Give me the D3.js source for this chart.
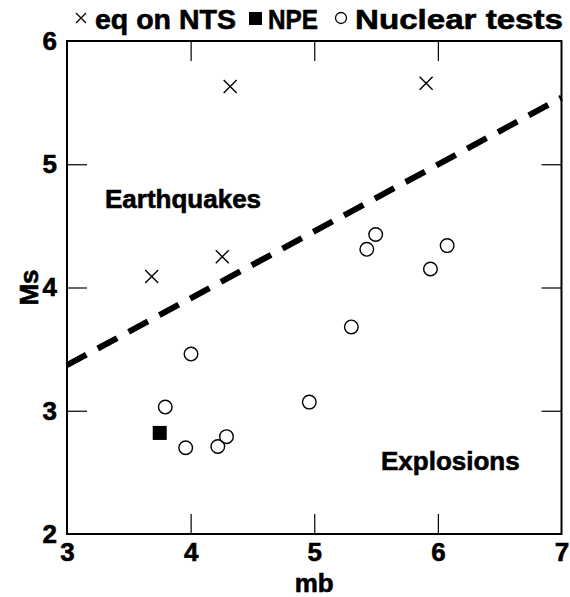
<!DOCTYPE html>
<html><head><meta charset="utf-8">
<script src="https://cdn.jsdelivr.net/npm/d3@7"></script>
<style>body{margin:0;background:#fff}svg{display:block}text{font-family:"Liberation Sans",Arial,sans-serif;font-weight:bold;fill:#000;stroke:#000;stroke-width:0.6px}</style>
</head><body><svg id="c" width="570" height="597"></svg>
<script>
const xTicks=[3,4,5,6,7];
const yTicks=[2,3,4,5,6];
const eqMb=[3.685,4.256,4.32,5.905];
const eqMs=[4.09,4.25,5.63,5.657];
const npeMb=[3.75];
const npeMs=[2.82];
const nucMb=[3.795,3.96,4.003,4.22,4.29,4.96,5.30,5.425,5.497,5.94,6.075];
const nucMs=[3.03,2.70,3.46,2.71,2.79,3.07,3.68,4.31,4.43,4.15,4.34];
const lineMb=[3,7];
const lineMs=[3.37,5.54];
const legendLabels=["eq on NTS","NPE","Nuclear tests"];
const regionLabels=["Earthquakes","Explosions"];

const svg=d3.select("#c");
const L=67,R=561.5,T=41,B=534;
const x=d3.scaleLinear().domain([3,7]).range([L,R]);
const y=d3.scaleLinear().domain([2,6]).range([B,T]);
const g=svg.append("g");
const tl=20;
g.append("rect").attr("x",L).attr("y",T).attr("width",R-L).attr("height",B-T).attr("fill","none").attr("stroke","#000").attr("stroke-width",2);
const ax=g.append("g").attr("transform",`translate(0,${B})`).call(d3.axisBottom(x).tickValues(xTicks).tickSize(-tl).tickPadding(9).tickFormat(d3.format("d")));
const ax2=g.append("g").attr("transform",`translate(0,${T})`).call(d3.axisTop(x).tickValues(xTicks.slice(1,-1)).tickSize(-tl).tickFormat(""));
const ay=g.append("g").attr("transform",`translate(${L},0)`).call(d3.axisLeft(y).tickValues(yTicks).tickSize(-tl).tickPadding(10).tickFormat(d3.format("d")));
const ay2=g.append("g").attr("transform",`translate(${R},0)`).call(d3.axisRight(y).tickValues(yTicks.slice(1,-1)).tickSize(-tl).tickFormat(""));
[ax,ax2,ay,ay2].forEach(a=>{a.select(".domain").remove();a.selectAll(".tick line").attr("stroke","#000").attr("stroke-width",1.2);a.selectAll("text").style("font-size","26px").style("font-family","Liberation Sans, Arial, sans-serif").style("font-weight","bold").attr("fill","#000");});
ax.selectAll(".tick").filter(d=>d===3||d===7).select("line").remove();
ay.selectAll(".tick").filter(d=>d===2||d===6).select("line").remove();
svg.append("text").attr("x",(L+R)/2).attr("y",592).attr("text-anchor","middle").style("font-size","26px").text("mb");
svg.append("text").attr("transform",`translate(38,${(T+B)/2}) rotate(-90)`).attr("text-anchor","middle").style("font-size","26px").text("Ms");
const line=d3.line().x(d=>x(d[0])).y(d=>y(d[1]));
svg.append("path").datum(lineMb.map((m,i)=>[m,lineMs[i]])).attr("d",line).attr("fill","none").attr("stroke","#000").attr("stroke-width",6).attr("stroke-dasharray","22,13");
const cs=6.5;
svg.append("g").selectAll("path").data(eqMb.map((m,i)=>[m,eqMs[i]])).join("path")
 .attr("d",d=>{const cx=x(d[0]),cy=y(d[1]);return `M${cx-cs},${cy-cs}L${cx+cs},${cy+cs}M${cx-cs},${cy+cs}L${cx+cs},${cy-cs}`;})
 .attr("stroke","#000").attr("stroke-width",1.4);
svg.append("g").selectAll("circle").data(nucMb.map((m,i)=>[m,nucMs[i]])).join("circle")
 .attr("cx",d=>x(d[0])).attr("cy",d=>y(d[1])).attr("r",6.8).attr("fill","none").attr("stroke","#000").attr("stroke-width",1.4);
svg.append("g").selectAll("rect").data(npeMb.map((m,i)=>[m,npeMs[i]])).join("rect")
 .attr("x",d=>x(d[0])-7).attr("y",d=>y(d[1])-7).attr("width",14).attr("height",14).attr("fill","#000");
svg.append("text").attr("x",105).attr("y",208).style("font-size","26px").text(regionLabels[0]);
svg.append("text").attr("x",381).attr("y",470).style("font-size","26px").text(regionLabels[1]);
const lg=svg.append("g");
lg.append("path").attr("d","M76,13L86,23M76,23L86,13").attr("stroke","#000").attr("stroke-width",1.3);
lg.append("text").attr("x",95).attr("y",29).style("font-size","28px").attr("textLength",141).attr("lengthAdjust","spacingAndGlyphs").text(legendLabels[0]);
lg.append("rect").attr("x",249).attr("y",12).attr("width",13).attr("height",13).attr("fill","#000");
lg.append("text").attr("x",268).attr("y",29).style("font-size","28px").attr("textLength",50).attr("lengthAdjust","spacingAndGlyphs").text(legendLabels[1]);
lg.append("circle").attr("cx",341).attr("cy",18).attr("r",5.5).attr("fill","none").attr("stroke","#000").attr("stroke-width",1.3);
lg.append("text").attr("x",355).attr("y",29).style("font-size","28px").attr("textLength",208).attr("lengthAdjust","spacingAndGlyphs").text(legendLabels[2]);
</script></body></html>
